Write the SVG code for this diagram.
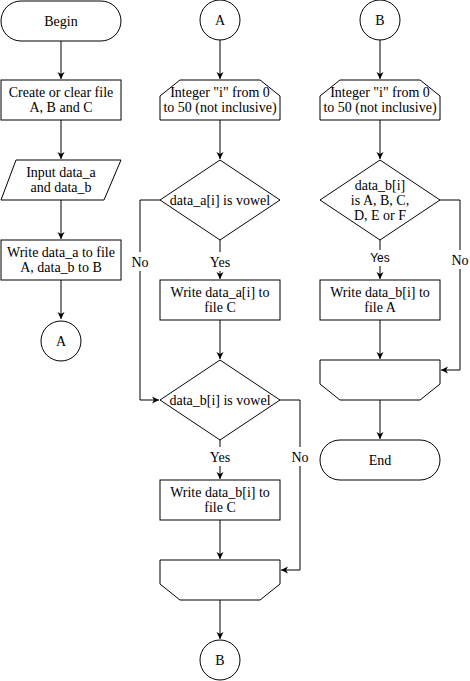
<svg xmlns="http://www.w3.org/2000/svg" width="470" height="681" viewBox="0 0 470 681">
<style>
.s{fill:#fff;stroke:#000;stroke-width:1}
.t{font-family:'Liberation Serif','Times New Roman',serif;font-size:14px;fill:#000;text-anchor:middle}
.l{font-family:'Liberation Serif','Times New Roman',serif;font-size:14px;fill:#000;text-anchor:middle}
.ts{font-family:'Liberation Sans',Arial,sans-serif;font-size:12px;fill:#000;text-anchor:middle}
.c{fill:none;stroke:#000;stroke-width:1}
.bg{fill:#fff}
</style>
<defs>
<marker id="ah" markerWidth="8" markerHeight="8" refX="7" refY="4" orient="auto" markerUnits="userSpaceOnUse">
<path d="M0,0.5 L7,4 L0,7.5 L2,4 Z" fill="#000"/>
</marker>
</defs>
<g id="connectors">
<path class="c" d="M61,41 V79" marker-end="url(#ah)"/>
<path class="c" d="M61,120 V159" marker-end="url(#ah)"/>
<path class="c" d="M61,200 V239" marker-end="url(#ah)"/>
<path class="c" d="M61,280 V319" marker-end="url(#ah)"/>
<path class="c" d="M220,40 V79" marker-end="url(#ah)"/>
<path class="c" d="M220,120 V159" marker-end="url(#ah)"/>
<path class="c" d="M220,240 V279" marker-end="url(#ah)"/>
<path class="c" d="M220,320 V359" marker-end="url(#ah)"/>
<path class="c" d="M160,200 H140 V400 H159" marker-end="url(#ah)"/>
<path class="c" d="M220,440 V479" marker-end="url(#ah)"/>
<path class="c" d="M280,400 H300 V570 H281" marker-end="url(#ah)"/>
<path class="c" d="M220,520 V559" marker-end="url(#ah)"/>
<path class="c" d="M220,600 V639" marker-end="url(#ah)"/>
<path class="c" d="M380,40 V79" marker-end="url(#ah)"/>
<path class="c" d="M380,120 V159" marker-end="url(#ah)"/>
<path class="c" d="M380,240 V279" marker-end="url(#ah)"/>
<path class="c" d="M440,200 H460 V370 H441" marker-end="url(#ah)"/>
<path class="c" d="M380,320 V359" marker-end="url(#ah)"/>
<path class="c" d="M380,400 V439" marker-end="url(#ah)"/>
<rect class="bg" x="131" y="252" width="18" height="19"/>
<text class="l" x="140" y="267">No</text>
<rect class="bg" x="208" y="252" width="24" height="19"/>
<text class="l" x="220" y="267">Yes</text>
<rect class="bg" x="208" y="447" width="24" height="19"/>
<text class="l" x="220" y="462">Yes</text>
<rect class="bg" x="291" y="447" width="18" height="19"/>
<text class="l" x="300" y="462">No</text>
<rect class="bg" x="369" y="250" width="22" height="16"/>
<text class="ts" x="380" y="262">Yes</text>
<rect class="bg" x="451" y="250" width="18" height="19"/>
<text class="l" x="460" y="265">No</text>
</g>
<g id="begin">
<rect class="s" x="1" y="1" width="120" height="40" rx="20" ry="20"/>
<text class="t" x="61" y="26">Begin</text>
</g>
<g id="create">
<rect class="s" x="1" y="80" width="120" height="40"/>
<text class="t" x="61" y="97">Create or clear file</text>
<text class="t" x="61" y="112">A, B and C</text>
</g>
<g id="input">
<polygon class="s" points="16,160 121,160 104,200 1,200"/>
<text class="t" x="61" y="177">Input data_a</text>
<text class="t" x="61" y="192">and data_b</text>
</g>
<g id="write1">
<rect class="s" x="1" y="240" width="120" height="40"/>
<text class="t" x="61" y="257">Write data_a to file</text>
<text class="t" x="61" y="272">A, data_b to B</text>
</g>
<g id="connA1">
<circle class="s" cx="61" cy="341" r="20"/>
<text class="t" x="61" y="346">A</text>
</g>
<g id="connA2">
<circle class="s" cx="220" cy="20" r="20"/>
<text class="t" x="220" y="25">A</text>
</g>
<g id="loop1">
<polygon class="s" points="180,80 260,80 280,96 280,120 160,120 160,96"/>
<text class="t" x="220" y="97">Integer "i" from 0</text>
<text class="t" x="220" y="112">to 50 (not inclusive)</text>
</g>
<g id="dec1">
<polygon class="s" points="220,160 280,200 220,240 160,200"/>
<text class="t" x="220" y="205">data_a[i] is vowel</text>
</g>
<g id="write2">
<rect class="s" x="160" y="280" width="120" height="40"/>
<text class="t" x="220" y="297">Write data_a[i] to</text>
<text class="t" x="220" y="312">file C</text>
</g>
<g id="dec2">
<polygon class="s" points="220,360 280,400 220,440 160,400"/>
<text class="t" x="220" y="405">data_b[i] is vowel</text>
</g>
<g id="write3">
<rect class="s" x="160" y="480" width="120" height="40"/>
<text class="t" x="220" y="497">Write data_b[i] to</text>
<text class="t" x="220" y="512">file C</text>
</g>
<g id="loopend1">
<polygon class="s" points="160,560 280,560 280,584 260,600 180,600 160,584"/>
</g>
<g id="connB1">
<circle class="s" cx="220" cy="660" r="20"/>
<text class="t" x="220" y="665">B</text>
</g>
<g id="connB2">
<circle class="s" cx="380" cy="20" r="20"/>
<text class="t" x="380" y="25">B</text>
</g>
<g id="loop2">
<polygon class="s" points="340,80 420,80 440,96 440,120 320,120 320,96"/>
<text class="t" x="380" y="97">Integer "i" from 0</text>
<text class="t" x="380" y="112">to 50 (not inclusive)</text>
</g>
<g id="dec3">
<polygon class="s" points="380,160 440,200 380,240 320,200"/>
<text class="t" x="380" y="190">data_b[i]</text>
<text class="t" x="380" y="205">is A, B, C,</text>
<text class="t" x="380" y="220">D, E or F</text>
</g>
<g id="write4">
<rect class="s" x="320" y="280" width="120" height="40"/>
<text class="t" x="380" y="297">Write data_b[i] to</text>
<text class="t" x="380" y="312">file A</text>
</g>
<g id="loopend2">
<polygon class="s" points="320,360 440,360 440,384 420,400 340,400 320,384"/>
</g>
<g id="end">
<rect class="s" x="320" y="440" width="120" height="40" rx="20" ry="20"/>
<text class="t" x="380" y="465">End</text>
</g>
</svg>
